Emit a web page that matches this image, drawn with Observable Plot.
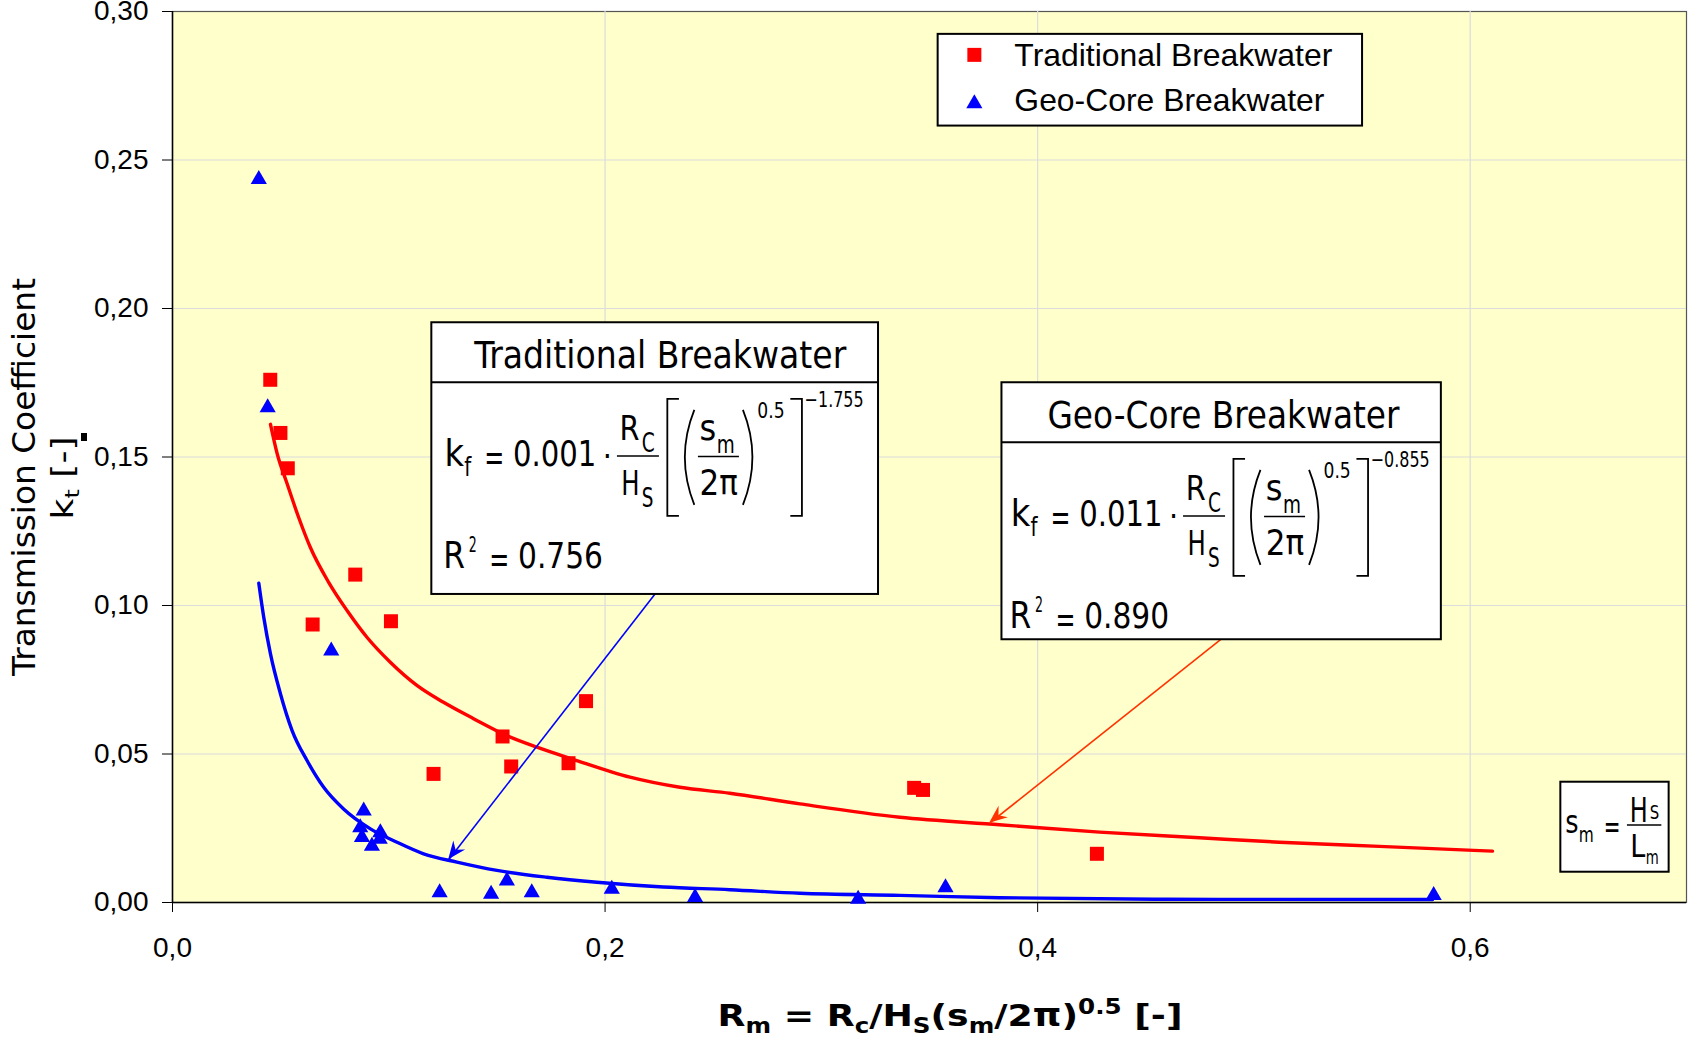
<!DOCTYPE html>
<html>
<head>
<meta charset="utf-8">
<script src="https://cdn.jsdelivr.net/npm/d3@7"></script>
<script src="https://cdn.jsdelivr.net/npm/@observablehq/plot@0.6"></script>
<style>
  html, body { margin: 0; padding: 0; background: #fff; overflow: hidden; }
  #chart svg { display: block; }
</style>
</head>
<body>
<div id="chart"></div>
<script>
// Measured transmission coefficients k_t against R_m
const tradRm = [0.0452, 0.0499, 0.0533, 0.0648, 0.0845, 0.1010, 0.1207, 0.1526, 0.1566, 0.1831, 0.1912, 0.3429, 0.3470, 0.4274];
const tradKt = [0.1760, 0.1581, 0.1462, 0.0936, 0.1104, 0.0947, 0.0433, 0.0559, 0.0458, 0.0469, 0.0678, 0.0386, 0.0379, 0.0164];

const geoRm = [0.0399, 0.0440, 0.0734, 0.0884, 0.0868, 0.0876, 0.0961, 0.0958, 0.0922, 0.1235, 0.1473, 0.1546, 0.1661, 0.2031, 0.2416, 0.3170, 0.3574, 0.5831];
const geoKt = [0.2442, 0.1673, 0.0854, 0.0315, 0.0259, 0.0226, 0.0242, 0.0220, 0.0197, 0.0040, 0.0035, 0.0080, 0.0040, 0.0052, 0.0024, 0.0018, 0.0057, 0.0031];

// Power-law trendlines, sampled along each fitted curve
const tradFitRm = [0.0453, 0.0484, 0.0530, 0.0583, 0.0637, 0.0722, 0.0807, 0.0899, 0.1007, 0.1130, 0.1253, 0.1392, 0.1546, 0.1685, 0.1869, 0.2115, 0.2346, 0.2577, 0.2901, 0.3363, 0.3824, 0.4286, 0.4748, 0.5118, 0.5580, 0.6103];
const tradFitKt = [0.1610, 0.1511, 0.1410, 0.1297, 0.1196, 0.1078, 0.0983, 0.0893, 0.0809, 0.0731, 0.0674, 0.0619, 0.0562, 0.0523, 0.0478, 0.0422, 0.0388, 0.0368, 0.0332, 0.0287, 0.0262, 0.0237, 0.0218, 0.0203, 0.0189, 0.0173];

const geoFitRm = [0.0399, 0.0422, 0.0453, 0.0499, 0.0553, 0.0622, 0.0699, 0.0791, 0.0915, 0.1038, 0.1161, 0.1315, 0.1500, 0.1731, 0.1962, 0.2269, 0.2577, 0.2901, 0.3363, 0.3824, 0.4594, 0.5826];
const geoFitKt = [0.1075, 0.0960, 0.0837, 0.0703, 0.0579, 0.0478, 0.0388, 0.0315, 0.0248, 0.0203, 0.0164, 0.0136, 0.0108, 0.0085, 0.0068, 0.0052, 0.0043, 0.0031, 0.0024, 0.0016, 0.0011, 0.0010];

// Axis ticks
const xTicks = [0, 0.2, 0.4, 0.6];
const yTicks = [0, 0.05, 0.10, 0.15, 0.20, 0.25, 0.30];

// Series names and fitted equation parameters shown in the callout boxes
const seriesNames = ["Traditional Breakwater", "Geo-Core Breakwater"];
const fitCoefs = ["0.001", "0.011"];
const fitExponents = ["\u22121.755", "\u22120.855"];
const fitR2 = [0.756, 0.890];

// Callout arrows: from each equation box to its curve (R_m, k_t)
const calloutRm1 = [0.2231, 0.4850];
const calloutKt1 = [0.1039, 0.0888];
const calloutRm2 = [0.1277, 0.3778];
const calloutKt2 = [0.0144, 0.0267];
const calloutColors = ["#0000FF", "#FF3300"];

const RED = "#FF0000", BLUE = "#0000FF";
const EQ_FONT = "'DejaVu Sans Condensed', 'DejaVu Sans', sans-serif";
const comma = f => d => d3.format(f)(d).replace(".", ",");

const tradPts = tradRm.map((x, i) => ({x, y: tradKt[i]}));
const geoPts = geoRm.map((x, i) => ({x, y: geoKt[i]}));
const tradFit = tradFitRm.map((x, i) => ({x, y: tradFitKt[i]}));
const geoFit = geoFitRm.map((x, i) => ({x, y: geoFitKt[i]}));
const callouts = calloutRm1.map((_, i) => ({
  x1: calloutRm1[i], y1: calloutKt1[i], x2: calloutRm2[i], y2: calloutKt2[i], c: calloutColors[i]
}));

const plot = Plot.plot({
  width: 1688,
  height: 1038,
  marginLeft: 172,
  marginRight: 2,
  marginTop: 11,
  marginBottom: 136,
  style: {
    background: "#ffffff",
    color: "#000",
    fontFamily: "'Liberation Sans', Arial, sans-serif",
    fontSize: "28px"
  },
  x: {domain: [0, 0.7], ticks: xTicks, tickFormat: comma(".1f"), tickSize: 10, tickPadding: 25, label: null},
  y: {domain: [0, 0.30], ticks: yTicks, tickFormat: comma(".2f"), tickSize: 10, tickPadding: 14, label: null},
  marks: [
    Plot.frame({fill: "#FFFFCC", stroke: "#555", strokeWidth: 1.2}),
    Plot.ruleX(xTicks.slice(1), {stroke: "#dcdcdc", strokeWidth: 1.2}),
    Plot.ruleY(yTicks.slice(1, -1), {stroke: "#dcdcdc", strokeWidth: 1.2}),
    Plot.ruleX([0], {stroke: "#000", strokeWidth: 1.5}),
    Plot.ruleY([0], {stroke: "#000", strokeWidth: 1.5}),
    Plot.line(tradFit, {x: "x", y: "y", stroke: RED, strokeWidth: 3.4, curve: "monotone-x"}),
    Plot.line(geoFit, {x: "x", y: "y", stroke: BLUE, strokeWidth: 3.4, curve: "monotone-x"}),
    Plot.dot(tradPts, {x: "x", y: "y", symbol: "square", r: 7.9, fill: RED}),
    Plot.dot(geoPts, {x: "x", y: "y", symbol: "triangle", r: 6, fill: BLUE, dy: 2}),
    Plot.link(callouts, {x1: "x1", y1: "y1", x2: "x2", y2: "y2", stroke: "c", strokeWidth: 1.6})
  ]
});
document.getElementById("chart").append(plot);

const sx = plot.scale("x"), sy = plot.scale("y");
const svg = d3.select(plot);
const annot = svg.append("g").attr("fill", "#000").attr("text-anchor", "start");

function txt(g, str, x, y, size, len, anchor) {
  const el = g.append("text").attr("x", x).attr("y", y).attr("font-size", size)
    .attr("text-anchor", anchor || "start").text(str);
  if (len) el.attr("textLength", len).attr("lengthAdjust", "spacingAndGlyphs");
  return el;
}
function hline(g, xa, xb, y, w) {
  g.append("line").attr("x1", xa).attr("x2", xb).attr("y1", y).attr("y2", y)
    .attr("stroke", "#000").attr("stroke-width", w || 1.5);
}

// Filled arrowheads at the callout tips
callouts.forEach(d => {
  const x1 = sx.apply(d.x1), y1 = sy.apply(d.y1), x2 = sx.apply(d.x2), y2 = sy.apply(d.y2);
  const len = Math.hypot(x2 - x1, y2 - y1), ux = (x2 - x1) / len, uy = (y2 - y1) / len;
  const nx = -uy, ny = ux, L = 18, W = 7.5, N = 12;
  const pts = [
    [x2, y2],
    [x2 - ux * L + nx * W, y2 - uy * L + ny * W],
    [x2 - ux * N, y2 - uy * N],
    [x2 - ux * L - nx * W, y2 - uy * L - ny * W]
  ];
  annot.append("polygon").attr("points", pts.map(p => p.join(",")).join(" ")).attr("fill", d.c);
});

// Equation callout boxes
const eqLayouts = [
  {x: 0.1199, y: 0.1952, w: 446.7, h: 271.7, titleCx: 229, titleW: 372, shift: 0},
  {x: 0.3835, y: 0.1750, w: 439.4, h: 257.0, titleCx: 222, titleW: 352, shift: -4}
];
eqLayouts.forEach((L, k) => {
  const g = annot.append("g")
    .attr("transform", `translate(${sx.apply(L.x)},${sy.apply(L.y)})`)
    .attr("font-family", EQ_FONT);
  const s = L.shift;
  g.append("rect").attr("width", L.w).attr("height", L.h)
    .attr("fill", "#fff").attr("stroke", "#000").attr("stroke-width", 2);
  hline(g, 0, L.w, 60, 2);
  txt(g, seriesNames[k], L.titleCx, 46, 37, L.titleW, "middle");

  txt(g, "k", 13.3 + s, 143.3, 38, 19.5);
  txt(g, "f", 33 + s, 154, 26, 7);
  txt(g, "=", 53 + s, 147.5, 38, 20);
  txt(g, fitCoefs[k], 81.7 + s, 143.3, 36, 83.3);
  txt(g, "\u00B7", 176 + s, 145, 32, null, "middle");

  txt(g, "R", 188.3 + s, 117.7, 34, 20);
  txt(g, "C", 210.5 + s, 129.3, 27, 13);
  hline(g, 185.6 + s, 227.6 + s, 133.7);
  txt(g, "H", 190 + s, 172.7, 34, 18.3);
  txt(g, "S", 210.5 + s, 185, 27, 11.7);

  const br = g.append("g").attr("fill", "none").attr("stroke", "#000").attr("stroke-width", 1.8);
  br.append("path").attr("d", `M${247.6 + s},76.7H${236 + s}V193.7H${247.6 + s}`);
  br.append("path").attr("d", `M${359 + s},76.7H${370.6 + s}V193.7H${359 + s}`);
  br.append("path").attr("d", `M${263 + s},87.7Q${244 + s},135 ${263 + s},182.7`);
  br.append("path").attr("d", `M${311.6 + s},87.7Q${330.6 + s},135 ${311.6 + s},182.7`);

  txt(g, "s", 268.3 + s, 117.7, 35, 16.7);
  txt(g, "m", 285.5 + s, 130.3, 24, 18);
  hline(g, 266.6 + s, 307.6 + s, 134.3);
  txt(g, "2\u03C0", 268.3 + s, 172.7, 36, 38.4);
  txt(g, "0.5", 326 + s, 96, 22, 27.3);
  txt(g, fitExponents[k], 373.3 + s, 84.4, 22, 59);

  txt(g, "R", 12 + s, 246, 38, 21.7);
  txt(g, "2", 37.5 + s, 230, 22, 8);
  txt(g, "=", 58 + s, 250, 38, 20);
  txt(g, fitR2[k].toFixed(3), 86.7 + s, 246, 36, 85);
});

// Definition box: s_m = H_S / L_m
{
  const g = annot.append("g")
    .attr("transform", `translate(${sx.apply(0.6419)},${sy.apply(0.0405)})`)
    .attr("font-family", EQ_FONT);
  g.append("rect").attr("width", 108.3).attr("height", 90)
    .attr("fill", "#fff").attr("stroke", "#000").attr("stroke-width", 2);
  txt(g, "s", 5, 51.6, 32, 13.3);
  txt(g, "m", 18.3, 60, 21, 15);
  txt(g, "=", 43.3, 56, 32, 16.7);
  txt(g, "H", 69.5, 40, 34, 18);
  txt(g, "S", 89.5, 37, 20, 9.5);
  hline(g, 66.6, 101, 43.3);
  txt(g, "L", 70, 75, 32, 15);
  txt(g, "m", 85.5, 82.3, 20, 13);
}

// Legend inside the plot area
{
  const g = annot.append("g")
    .attr("transform", `translate(${sx.apply(0.354)},${sy.apply(0.2923)})`)
    .attr("font-family", "'Liberation Sans', Arial, sans-serif");
  g.append("rect").attr("width", 424.4).attr("height", 91.7)
    .attr("fill", "#fff").attr("stroke", "#000").attr("stroke-width", 2);
  g.append("path").attr("transform", "translate(36.7,21)")
    .attr("d", d3.symbol(d3.symbolSquare, Math.PI * 7.9 * 7.9)()).attr("fill", RED);
  g.append("path").attr("transform", "translate(36.7,69.7)")
    .attr("d", d3.symbol(d3.symbolTriangle, Math.PI * 36)()).attr("fill", BLUE);
  txt(g, seriesNames[0], 76.7, 32, 31.5, 318);
  txt(g, seriesNames[1], 76.7, 76.7, 31.5, 310);
}

// Axis titles
{
  const xt = annot.append("text")
    .attr("x", 950).attr("y", 1026).attr("text-anchor", "middle")
    .attr("font-family", "'DejaVu Sans', Verdana, sans-serif")
    .attr("font-weight", "bold").attr("font-size", 31)
    .attr("textLength", 465).attr("lengthAdjust", "spacingAndGlyphs");
  const parts = [
    ["R", 31, 0], ["m", 21, 7], [" = R", 31, -7], ["c", 21, 7], ["/H", 31, -7], ["S", 21, 7],
    ["(s", 31, -7], ["m", 21, 7], ["/2\u03C0)", 31, -7], ["0.5", 21, -12], [" [-]", 31, 12]
  ];
  parts.forEach(([str, fs, dy]) => xt.append("tspan").attr("font-size", fs).attr("dy", dy).text(str));

  annot.append("text")
    .attr("transform", "translate(35,477) rotate(-90)")
    .attr("text-anchor", "middle")
    .attr("font-family", "'DejaVu Sans', Verdana, sans-serif")
    .attr("font-size", 32)
    .attr("textLength", 398).attr("lengthAdjust", "spacingAndGlyphs")
    .text("Transmission Coefficient");

  const kt = annot.append("text")
    .attr("transform", "translate(73,478) rotate(-90)")
    .attr("text-anchor", "middle")
    .attr("font-family", "'DejaVu Sans', Verdana, sans-serif")
    .attr("font-size", 30)
    .attr("textLength", 83).attr("lengthAdjust", "spacingAndGlyphs");
  kt.append("tspan").text("k");
  kt.append("tspan").attr("font-size", 20).attr("dy", 6).text("t");
  kt.append("tspan").attr("dy", -6).text(" [-]");

  annot.append("rect").attr("x", 81).attr("y", 433).attr("width", 6).attr("height", 8).attr("fill", "#000");
}
</script>
</body>
</html>
